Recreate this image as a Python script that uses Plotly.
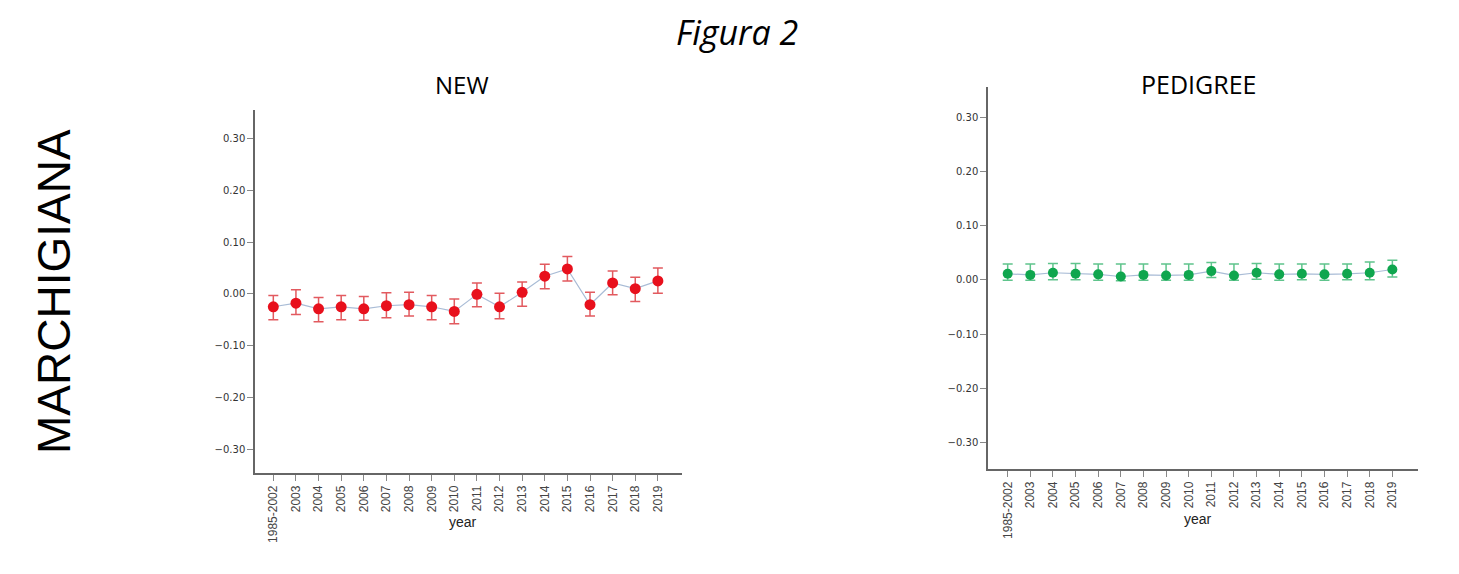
import plotly.graph_objects as go

years = ["1985-2002", "2003", "2004", "2005", "2006", "2007", "2008", "2009", "2010",
         "2011", "2012", "2013", "2014", "2015", "2016", "2017", "2018", "2019"]

new_mean = [-0.025, -0.018, -0.029, -0.025, -0.029, -0.023, -0.021, -0.025, -0.034,
            -0.001, -0.025, 0.003, 0.034, 0.048, -0.021, 0.021, 0.010, 0.025]
new_upper = [-0.003, 0.008, -0.007, -0.003, -0.005, 0.002, 0.003, -0.003, -0.010,
             0.021, 0.001, 0.023, 0.057, 0.072, 0.003, 0.044, 0.032, 0.050]
new_lower = [-0.050, -0.040, -0.054, -0.050, -0.051, -0.046, -0.043, -0.050, -0.058,
             -0.025, -0.048, -0.024, 0.010, 0.025, -0.043, -0.002, -0.015, 0.001]

ped_mean = [0.011, 0.009, 0.013, 0.011, 0.010, 0.006, 0.009, 0.008, 0.009,
            0.016, 0.008, 0.013, 0.010, 0.011, 0.010, 0.011, 0.013, 0.019]
ped_upper = [0.029, 0.029, 0.030, 0.030, 0.029, 0.029, 0.029, 0.029, 0.029,
             0.032, 0.029, 0.030, 0.029, 0.029, 0.029, 0.029, 0.033, 0.036]
ped_lower = [-0.001, -0.001, 0.000, 0.000, -0.001, -0.002, -0.001, -0.001, -0.001,
             0.004, -0.001, 0.001, -0.001, 0.000, -0.001, 0.000, 0.000, 0.005]

y_ticks = [0.30, 0.20, 0.10, 0.00, -0.10, -0.20, -0.30]

# page offset (browser default body margin) and figure size
OFF = 8
W, H = 1459 - OFF, 574 - OFF

def px(x):
    return (x - OFF) / W

def py(y):
    return 1 - (y - OFF) / H

fig = go.Figure()

def add_series(mean, upper, lower, xa, ya, mcolor, ecolor, msize):
    fig.add_trace(go.Scatter(
        x=years, y=mean, xaxis=xa, yaxis=ya, mode="lines+markers",
        line=dict(color="#a9bcd6", width=1.2),
        marker=dict(color=mcolor, size=msize),
        error_y=dict(type="data", symmetric=False,
                     array=[u - m for u, m in zip(upper, mean)],
                     arrayminus=[m - l for m, l in zip(mean, lower)],
                     color=ecolor, thickness=1.5, width=5),
        showlegend=False, hoverinfo="x+y"))

add_series(new_mean, new_upper, new_lower, "x", "y", "#e8101c", "#e25a5f", 11)
add_series(ped_mean, ped_upper, ped_lower, "x2", "y2", "#0fa64e", "#5fc48c", 10)

axis_line = dict(showline=True, linecolor="#666666", linewidth=1.5, showgrid=False,
                 zeroline=False, ticks="outside", ticklen=6, tickcolor="#888888",
                 tickwidth=1)

xcommon = dict(axis_line, type="category", tickangle=-90,
               tickfont=dict(family="Liberation Sans, Arial", size=12, color="#444444"))
ycommon = dict(axis_line, tickvals=y_ticks, tickformat=".2f",
               tickfont=dict(family="DejaVu Sans", size=10, color="#333333"))

def ann(text, x, y, size, family, angle=0, color="#000000"):
    return dict(text=text, x=px(x), y=py(y), xref="paper", yref="paper",
                showarrow=False, xanchor="center", yanchor="middle", textangle=angle,
                font=dict(family=family, size=size, color=color))

fig.update_layout(
    width=W, height=H,
    margin=dict(l=0, r=0, t=0, b=0),
    paper_bgcolor="white", plot_bgcolor="white",
    xaxis=dict(xcommon, domain=[px(255), px(682.3)], range=[-0.81, 18.08], anchor="y"),
    yaxis=dict(ycommon, domain=[py(473), py(110)], range=[-0.346, 0.355], anchor="x"),
    xaxis2=dict(xcommon, domain=[px(988), px(1417.7)], range=[-0.87, 18.12], anchor="y2"),
    yaxis2=dict(ycommon, domain=[py(469), py(87.3)], range=[-0.349, 0.355], anchor="x2"),
    annotations=[
        ann("<i>Figura 2</i>", 737, 32, 34, "Open Sans"),
        ann("NEW", 462, 84, 24, "Open Sans"),
        ann("PEDIGREE", 1198, 84, 25, "Open Sans"),
        ann("MARCHIGIANA", 54, 292, 46, "Liberation Sans, Arial", angle=-90),
        ann("year", 463, 522, 14, "Liberation Sans, Arial", color="#222222"),
        ann("year", 1198, 519, 14, "Liberation Sans, Arial", color="#222222"),
    ],
)

fig.write_html("out.html")
